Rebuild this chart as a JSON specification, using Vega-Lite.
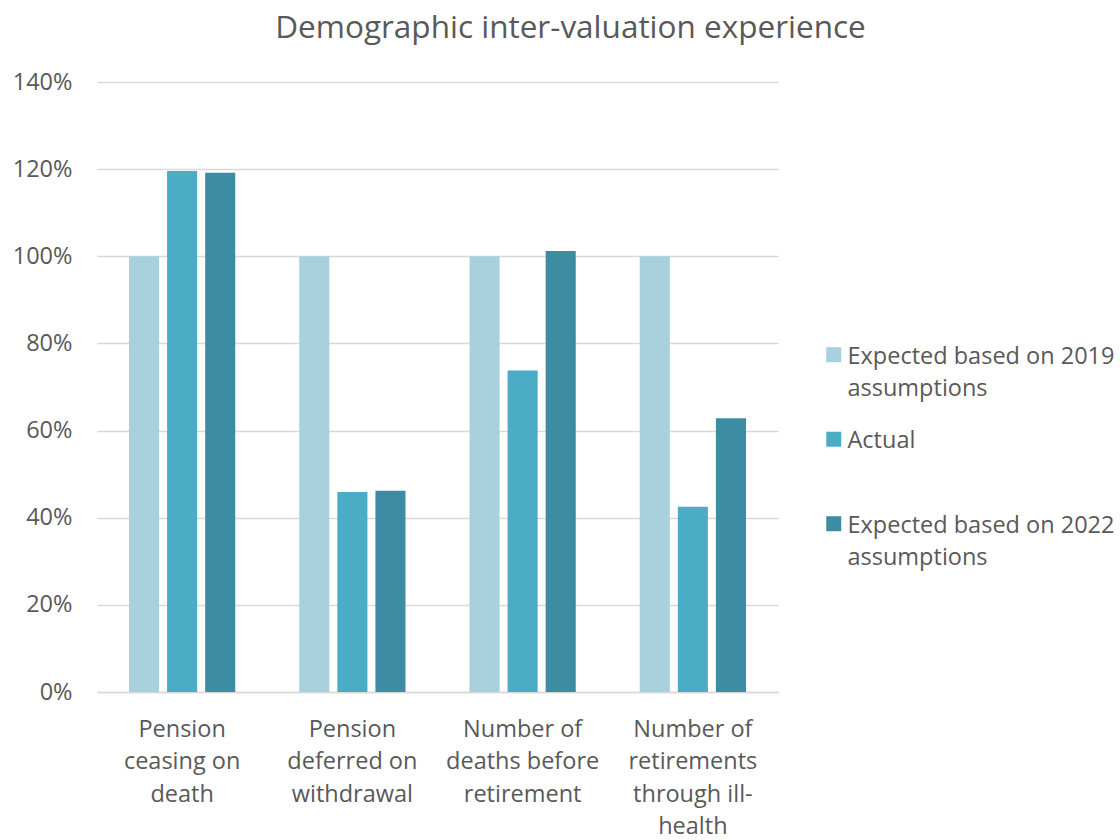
{
  "$schema": "https://vega.github.io/schema/vega-lite/v6.json",
  "width": 681,
  "height": 610,
  "autosize": {"type": "none"},
  "padding": {"left": 97, "top": 82, "right": 342, "bottom": 148},
  "background": "white",
  "title": {
    "text": "Demographic inter-valuation experience",
    "anchor": "middle",
    "dx": 133,
    "offset": 26,
    "fontSize": 31.5,
    "font": "Open Sans",
    "fontWeight": "normal",
    "color": "#595959"
  },
  "config": {
    "view": {"stroke": null},
    "font": "Open Sans",
    "style": {"guide-label": {"lineHeight": 32}}
  },
  "data": {
    "values": [
      {"category": "Pension|ceasing on|death", "order": 1, "series": "Expected based on 2019 assumptions", "value": 1.0},
      {"category": "Pension|ceasing on|death", "order": 1, "series": "Actual", "value": 1.196},
      {"category": "Pension|ceasing on|death", "order": 1, "series": "Expected based on 2022 assumptions", "value": 1.192},
      {"category": "Pension|deferred on|withdrawal", "order": 2, "series": "Expected based on 2019 assumptions", "value": 1.0},
      {"category": "Pension|deferred on|withdrawal", "order": 2, "series": "Actual", "value": 0.459},
      {"category": "Pension|deferred on|withdrawal", "order": 2, "series": "Expected based on 2022 assumptions", "value": 0.462},
      {"category": "Number of|deaths before|retirement", "order": 3, "series": "Expected based on 2019 assumptions", "value": 1.0},
      {"category": "Number of|deaths before|retirement", "order": 3, "series": "Actual", "value": 0.738},
      {"category": "Number of|deaths before|retirement", "order": 3, "series": "Expected based on 2022 assumptions", "value": 1.012},
      {"category": "Number of|retirements|through ill-|health", "order": 4, "series": "Expected based on 2019 assumptions", "value": 1.0},
      {"category": "Number of|retirements|through ill-|health", "order": 4, "series": "Actual", "value": 0.425},
      {"category": "Number of|retirements|through ill-|health", "order": 4, "series": "Expected based on 2022 assumptions", "value": 0.628}
    ]
  },
  "mark": {"type": "bar"},
  "encoding": {
    "x": {
      "field": "category",
      "type": "nominal",
      "sort": {"field": "order"},
      "scale": {"paddingInner": 0.376, "paddingOuter": 0.188},
      "axis": {
        "title": null,
        "labelAngle": 0,
        "labelExpr": "split(datum.value, '|')",
        "labelFontSize": 23.5,
        "labelColor": "#595959",
        "labelLineHeight": 32.5,
        "labelPadding": 25,
        "labelBaseline": "top",
        "ticks": false,
        "domainColor": "#D9D9D9",
        "domainWidth": 1.5
      }
    },
    "xOffset": {
      "field": "series",
      "type": "nominal",
      "sort": ["Expected based on 2019 assumptions", "Actual", "Expected based on 2022 assumptions"],
      "scale": {"paddingInner": 0.21, "paddingOuter": 0}
    },
    "y": {
      "field": "value",
      "type": "quantitative",
      "scale": {"domain": [0, 1.4], "nice": false},
      "axis": {
        "title": null,
        "values": [0, 0.2, 0.4, 0.6, 0.8, 1.0, 1.2, 1.4],
        "format": ".0%",
        "labelFontSize": 23.5,
        "labelColor": "#595959",
        "labelPadding": 25,
        "ticks": false,
        "domain": false,
        "gridColor": "#D9D9D9",
        "gridWidth": 1.5
      }
    },
    "color": {
      "field": "series",
      "type": "nominal",
      "sort": ["Expected based on 2019 assumptions", "Actual", "Expected based on 2022 assumptions"],
      "scale": {
        "domain": ["Expected based on 2019 assumptions", "Actual", "Expected based on 2022 assumptions"],
        "range": ["#A9D0DD", "#4BACC6", "#3C8CA3"]
      },
      "legend": {
        "title": null,
        "orient": "none",
        "legendX": 725,
        "legendY": 251,
        "symbolType": "M-1,0.33H1V2.33H-1Z",
        "symbolSize": 225,
        "symbolStrokeWidth": 0,
        "labelFontSize": 23.5,
        "labelColor": "#595959",
        "labelOffset": 2,
        "labelLimit": 400,
        "labelBaseline": "top",
        "labelExpr": "datum.value == 'Actual' ? 'Actual' : [slice(datum.value, 0, 22), 'assumptions']",
        "gridAlign": "all",
        "rowPadding": 16.5
      }
    }
  }
}
